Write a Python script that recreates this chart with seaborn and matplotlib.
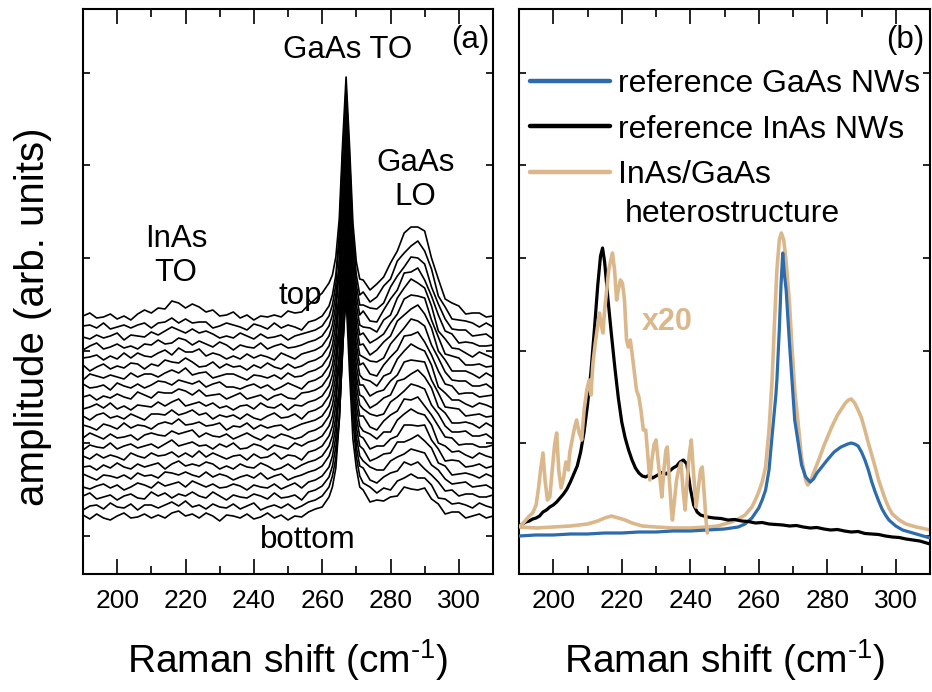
import matplotlib
matplotlib.use("Agg")
import matplotlib.pyplot as plt
import pandas as pd
import seaborn as sns
from matplotlib.ticker import MultipleLocator, FixedLocator
from matplotlib.lines import Line2D

# ---------------- data: panel (a) ----------------
x_a = [190, 192, 194, 196, 198, 200, 202, 204, 206, 208, 210, 212, 214, 216, 218, 220,
       222, 224, 226, 228, 230, 232, 234, 236, 238, 240, 242, 244, 246, 248, 250, 252,
       254, 256, 258, 260, 262, 263, 264, 265, 266, 267, 268, 269, 270, 271, 272, 274,
       276, 278, 280, 282, 284, 286, 288, 290, 292, 294, 296, 298, 300, 302, 304, 306,
       308, 310]

# vertical stacking offset of each spectrum (bottom -> top)
offsets_a = [57, 67, 77, 87, 97, 107, 117, 127, 137, 147, 157,
             167, 177, 187, 197, 207, 217, 227, 237, 247, 257]

traces_a = [
    [2,-2,3,-1,-3,1,4,-1,0,3,-1,2,-1,4,6,1,3,-1,4,1,-4,2,1,-1,3,-2,0,4,-1,2,-3,1,0,
     5,8,10,20,30,49,96,172,220,145,78,49,30,
     27,15,17,16,20,21,30,28,27,29,18,13,3,5,5,-1,1,3,-1,1],
    [-3,1,2,-2,4,0,-1,3,-3,2,2,-1,2,5,1,6,0,2,-2,3,0,-1,3,-2,1,4,-3,0,2,-1,3,-2,1,
     5,7,11,20,31,49,87,159,221,159,87,50,31,
     24,20,14,19,17,26,29,33,29,29,22,9,8,3,4,2,-1,4,1,-1],
    [1,4,-2,0,2,-3,1,3,-1,-2,5,1,4,-1,3,1,5,1,-1,5,1,-3,2,0,-1,3,1,-2,4,-1,0,2,-3,
     5,7,11,20,31,50,79,146,222,174,96,50,31,
     29,17,14,20,24,26,35,32,35,28,22,15,6,7,1,3,3,0,0,2],
    [0,-2,1,3,-1,2,-3,0,4,2,-1,5,1,3,5,0,6,3,0,3,-1,0,3,1,-3,2,0,-1,3,-2,1,4,-1,
     5,7,11,20,31,50,97,175,223,147,79,50,31,
     26,20,17,17,26,30,33,38,36,34,22,17,8,3,4,5,0,1,2,-2],
    [3,0,-3,2,1,-1,2,-2,4,1,2,-1,5,4,2,5,2,0,5,0,3,1,-3,0,2,-1,4,-2,1,3,-3,0,2,
     5,7,11,21,31,50,88,162,224,162,88,50,31,
     28,16,19,23,24,35,35,38,42,36,29,14,11,2,3,4,2,-1,3,0],
    [0,1,-3,2,-1,4,0,-2,3,0,2,4,-2,3,6,1,3,1,5,3,-2,1,-2,3,0,-1,4,1,-3,-1,3,-2,2,
     5,7,11,21,31,50,80,148,225,177,97,50,31,
     29,18,21,21,28,31,42,42,41,42,27,18,6,7,6,0,1,3,-1,1],
    [1,-2,3,-1,2,0,-3,4,1,-1,4,1,2,5,0,4,0,6,0,4,1,-2,1,2,-3,3,-1,0,4,-2,2,1,-3,
     5,7,11,21,31,51,98,178,226,148,80,51,31,
     26,23,18,25,25,37,43,48,44,42,32,14,11,5,6,2,-1,4,1,-1],
    [-3,2,0,-1,4,-2,1,3,-1,1,3,-1,3,7,1,3,5,1,2,-2,3,0,4,-2,-1,3,1,-3,2,0,-2,4,1,
     5,7,11,21,31,51,89,163,227,163,89,51,31,
     31,20,17,26,32,36,48,47,50,41,32,21,10,9,2,3,3,0,0,2],
    [-1,4,1,-2,3,-1,0,2,-3,2,4,2,1,6,3,5,7,0,4,1,0,3,-2,1,4,0,-3,2,-1,3,1,-2,0,
     5,7,11,21,32,51,81,149,228,179,98,51,32,
     28,23,21,23,35,40,46,53,51,48,32,23,11,5,5,6,1,1,3,-2],
    [2,0,-3,3,1,-2,4,-1,2,1,-2,3,5,3,8,2,3,5,1,2,4,-3,1,0,4,-2,2,-1,1,2,-3,0,3,
     5,7,11,21,32,51,98,180,229,149,81,51,32,
     30,19,23,29,32,46,48,53,57,50,39,20,14,4,4,5,3,-1,4,0],
    [1,-3,2,4,-1,1,-2,3,0,-3,3,3,2,7,2,4,7,2,4,-2,2,0,2,-2,3,-1,-3,1,4,-1,0,3,-2,
     5,7,11,21,32,51,90,166,230,166,90,51,32,
     32,21,25,27,36,42,55,57,56,55,37,24,10,9,8,1,2,3,0,1],
    [-2,0,3,-1,4,-2,1,-3,2,1,0,5,1,5,8,1,3,5,1,4,-1,1,-3,1,2,-2,4,0,-1,3,-3,2,1,
     5,7,11,21,32,52,82,151,231,181,99,52,32,
     28,26,21,31,34,48,56,63,59,56,42,20,14,7,7,3,0,4,2,-1],
    [0,2,-3,1,-1,3,0,-2,5,2,-1,5,4,4,8,6,2,7,1,2,3,-2,1,4,-2,0,2,-3,1,3,-1,-2,4,
     5,7,11,21,32,52,99,182,232,152,82,52,32,
     34,23,21,32,40,47,61,62,65,55,42,26,13,11,3,4,4,0,1,2],
    [3,-1,0,2,-3,4,1,-1,3,-1,2,6,5,2,7,5,3,6,0,3,5,0,0,-2,1,3,-1,2,-3,0,4,1,-2,
     5,7,11,21,32,52,91,167,233,167,91,52,32,
     30,26,25,29,43,51,59,68,66,61,42,29,15,7,6,6,1,1,3,-2],
    [-3,3,1,-1,2,0,-2,4,0,3,3,0,4,7,4,9,2,4,5,-1,1,3,3,0,-3,2,1,-1,2,-2,4,0,1,
     5,7,11,21,32,52,83,153,234,183,100,52,32,
     33,22,27,35,41,56,62,68,72,63,49,26,17,6,6,6,3,-1,4,0],
    [2,-4,0,3,-2,1,-1,4,3,-2,3,1,7,5,4,9,5,0,1,5,-1,3,0,1,-3,2,-1,4,0,-2,3,-1,1,
     5,7,11,21,32,52,100,184,235,153,83,52,32,
     34,24,28,33,44,53,68,72,71,69,47,30,13,11,9,2,2,3,0,1],
    [-1,0,2,-3,1,-2,4,-1,4,1,0,4,7,2,9,5,5,8,1,4,2,-2,1,-2,3,-1,2,0,-3,4,1,-2,3,
     5,7,11,21,32,52,91,169,236,169,91,52,32,
     30,29,25,37,42,59,69,78,74,69,51,26,18,9,8,4,0,5,2,-1],
    [-3,1,4,-2,0,3,-1,1,-2,3,2,7,3,4,9,7,2,6,3,0,5,2,-3,2,0,-1,4,-2,1,3,-1,0,2,
     5,7,11,21,32,52,83,155,237,185,100,52,32,
     36,26,25,37,48,57,74,75,79,67,51,32,16,13,4,5,4,1,1,2],
    [0,-2,2,-1,1,4,-3,2,1,0,5,2,6,10,7,4,8,4,6,3,-1,1,-1,4,1,-2,3,-1,0,2,-3,1,3,
     5,7,11,21,32,52,100,186,238,155,84,52,32,
     32,29,28,34,50,61,70,80,79,73,50,33,18,8,7,7,1,2,3,-2],
    [1,2,-1,4,-2,0,2,-1,2,4,-1,4,5,9,4,8,4,5,5,-1,1,4,2,0,-3,3,1,-2,4,-1,2,0,-3,
     5,7,11,21,32,52,92,170,239,170,92,52,32,
     35,25,30,41,48,66,74,81,86,76,58,31,20,8,7,6,4,0,4,0],
    [1,4,-1,0,3,-2,1,-3,3,7,4,9,8,16,14,9,13,10,5,7,1,2,5,-1,2,-3,1,0,2,0,6,4,5,
     12,18,24,34,42,60,98,175,240,172,94,55,38,
     37,27,33,40,54,66,84,90,90,86,59,38,18,14,11,3,4,4,0,1],
]

# ---------------- data: panel (b) ----------------
x_gaas = [190, 195, 200, 205, 210, 215, 220, 225, 230, 235, 240, 245, 250,
          252, 254, 256, 258, 260, 261, 262, 263,
          263.6, 264, 265, 265.3, 266, 266.5, 267, 267.5, 268, 269, 269.7, 270.5, 271.7, 272.5, 273.7,
          275, 276, 277, 278.4, 280, 282, 284, 286, 287, 288, 289, 290, 291, 292, 293, 294, 295,
          296, 297, 298, 300, 302, 305, 310]
y_gaas = [38, 39, 39, 40, 40, 41, 41, 42, 42, 43, 43, 44, 45,
          46, 47, 50, 56, 66, 74, 84, 104,
          127, 142, 179, 194, 244, 289, 321, 299, 284, 229, 194, 154, 127, 109, 97,
          92, 95, 101, 107, 114, 122, 127, 130, 131, 130, 128, 122, 114, 104, 92, 82, 73,
          65, 59, 54, 48, 44, 41, 36]

x_inas = [190, 191, 192, 193, 194, 195, 196, 197, 198, 199, 200, 201, 202, 203, 204, 205,
          206, 207, 208, 209, 210, 211, 212, 213, 213.8, 214.4,
          215, 216, 217, 218, 219, 220, 221, 222, 223, 224, 225, 226, 227, 228, 229, 230,
          231, 232, 233, 234, 235, 236, 237, 238, 239, 240, 241, 242, 243,
          245, 247, 249, 251, 253, 255, 257, 259, 261, 263, 265, 267, 269, 271, 273, 275,
          277, 279, 281, 283, 285, 287, 289, 291, 293, 295, 297, 299, 301, 303, 305, 307,
          309, 310]
y_inas = [48, 50, 52, 53, 55, 56, 58, 62, 64, 67, 69, 72, 76, 80, 85, 92,
          100, 108, 122, 142, 169, 202, 244, 289, 318, 326,
          312, 274, 239, 206, 176, 152, 136, 124, 114, 106, 101, 98, 97, 99, 96, 98,
          100, 102, 100, 103, 106, 108, 112, 114, 110, 86, 69, 62, 59,
          57, 56, 55.5, 54, 54.5, 53, 52.5, 51, 51.5, 50, 49.5, 49, 48, 48.5, 47, 46,
          46.5, 45, 44, 44.5, 43, 42, 42.5, 40.5, 40, 39.5, 38, 37, 36.5, 35, 34, 33,
          31, 30]

x_het = [190, 195, 200, 205, 210, 213, 215, 217, 219, 221,
         223, 226, 230, 235, 240, 245, 248, 250, 252, 254,
         256, 258, 259, 260, 261, 262, 263, 263.9, 264.5, 265.3,
         266, 266.6, 267.3, 268, 269, 269.7, 270.5, 271.7, 272.5, 273.7,
         274.3, 275, 276, 277.5, 279, 281.3, 283, 285.3, 286.2, 287,
         288, 289, 290, 291, 292, 293, 294, 295, 296, 297,
         298, 299, 301, 303, 306, 310]
y_het = [47, 46, 47, 48, 50, 53, 56, 58, 56, 54,
         51, 48, 47, 46, 46, 47, 48, 50, 52, 55,
         59, 67, 74, 82, 92, 107, 144, 194, 244, 304,
         334, 341, 334, 312, 269, 227, 184, 144, 116, 94,
         89, 92, 101, 114, 128, 147, 159, 171, 174, 175,
         171, 164, 156, 144, 131, 119, 107, 94, 84, 74,
         66, 60, 54, 50, 47, 44]

# heterostructure spectrum in the InAs range, multiplied by 20
x_het20 = [190, 191, 192, 193, 194, 195, 195.7, 196.3, 197, 197.6,
           198.3, 199, 199.7, 200.4, 201, 201.6, 202.3, 203, 203.7, 204.4,
           204.8, 205.5, 206.2, 206.8, 207.5, 208.3, 209, 209.8, 210.5, 211,
           211.6, 212.2, 212.8, 213.5, 214, 214.5, 215, 215.6, 216.2, 216.8,
           217.3, 217.9, 218.5, 219, 219.6, 220.2, 220.8, 221.4, 221.9, 222.5,
           223, 223.6, 224.3, 225, 225.6, 226.3, 227, 227.6, 228.2, 228.8,
           229.4, 230, 230.6, 231.2, 231.7, 232.3, 232.9, 233.3, 233.9, 234.5,
           234.8, 235.4, 236, 236.6, 237.3, 237.9, 238.5, 239.1, 239.7, 240.3,
           240.9, 241.7, 242.3, 243, 243.5, 244.1, 244.6, 245]
y_het20 = [47, 50, 54, 58, 61, 69, 86, 104, 121, 94,
           74, 77, 104, 129, 141, 104, 86, 96, 112, 104,
           121, 134, 146, 154, 142, 134, 164, 184, 194, 179,
           211, 229, 244, 261, 249, 241, 264, 284, 304, 314,
           321, 304, 274, 284, 294, 291, 274, 234, 227, 234,
           221, 204, 184, 177, 164, 144, 144, 119, 94, 114,
           129, 134, 114, 94, 77, 104, 124, 127, 94, 64,
           54, 74, 94, 104, 111, 84, 64, 94, 119, 134,
           104, 67, 84, 104, 107, 79, 54, 41]

legend_labels = ["reference GaAs NWs", "reference InAs NWs", "InAs/GaAs"]

BLUE = "#2D6BAD"
TAN = "#DBB78C"
BLACK = "#000000"

# ---------------- style ----------------
sns.set_theme(style="ticks", rc={
    "axes.edgecolor": "black", "xtick.color": "black", "ytick.color": "black",
    "text.color": "black", "axes.labelcolor": "black", "axes.linewidth": 1.5,
})
plt.rcParams["font.family"] = ["Liberation Sans", "DejaVu Sans"]
plt.rcParams["mathtext.fontset"] = "custom"
plt.rcParams["mathtext.rm"] = "Liberation Sans"
plt.rcParams["mathtext.it"] = "Liberation Sans:italic"
plt.rcParams["mathtext.bf"] = "Liberation Sans:bold"

fig = plt.figure(figsize=(9.32, 6.92), dpi=100)
axa = fig.add_axes([83 / 932, 1 - 574 / 692, 410 / 932, 565 / 692])
axb = fig.add_axes([519 / 932, 1 - 574 / 692, 411 / 932, 565 / 692])

# ---------------- panel (a) ----------------
rows = []
for k, (off, vals) in enumerate(zip(offsets_a, traces_a)):
    for xv, yv in zip(x_a, vals):
        rows.append((k, xv, yv + off))
df_a = pd.DataFrame(rows, columns=["trace", "shift", "amp"])
sns.lineplot(data=df_a, x="shift", y="amp", units="trace", estimator=None,
             color=BLACK, lw=1.2, ax=axa, legend=False, sort=False)

# ---------------- panel (b) ----------------
sns.lineplot(x=x_het, y=y_het, color=TAN, lw=2.6, ax=axb, sort=False, zorder=2)
sns.lineplot(x=x_gaas, y=y_gaas, color=BLUE, lw=2.3, ax=axb, sort=False, zorder=3)
sns.lineplot(x=x_inas, y=y_inas, color=BLACK, lw=2.3, ax=axb, sort=False, zorder=4)
sns.lineplot(x=x_het20, y=y_het20, color=TAN, lw=2.6, ax=axb, sort=False, zorder=5)

handles = [Line2D([], [], color=BLUE, lw=3.2),
           Line2D([], [], color=BLACK, lw=3.2),
           Line2D([], [], color=TAN, lw=3.2)]
axb.legend(handles, legend_labels, loc="upper left", bbox_to_anchor=(0.027, 0.894),
           frameon=False, fontsize=23, handlelength=2.5, handletextpad=0.25,
           labelspacing=0.49, borderpad=0, borderaxespad=0)
axb.text(0.258, 0.638, "heterostructure", transform=axb.transAxes,
         fontsize=23, ha="left", va="center")
axb.text(0.36, 0.446, "x20", transform=axb.transAxes, fontsize=22,
         fontweight="bold", color=TAN, ha="center", va="center")

# ---------------- annotations (a) ----------------
fs = 22.5
axa.text(0.646, 0.927, "GaAs TO", transform=axa.transAxes, fontsize=fs, ha="center", va="center")
axa.text(0.81, 0.697, "GaAs\nLO", transform=axa.transAxes, fontsize=fs, ha="center",
         va="center", linespacing=1.15)
axa.text(0.227, 0.563, "InAs\nTO", transform=axa.transAxes, fontsize=fs, ha="center",
         va="center", linespacing=1.15)
axa.text(0.529, 0.492, "top", transform=axa.transAxes, fontsize=fs, ha="center", va="center")
axa.text(0.549, 0.060, "bottom", transform=axa.transAxes, fontsize=fs, ha="center", va="center")
axa.text(0.944, 0.945, "(a)", transform=axa.transAxes, fontsize=fs, ha="center", va="center")
axb.text(0.939, 0.945, "(b)", transform=axb.transAxes, fontsize=fs, ha="center", va="center")

# ---------------- axes formatting ----------------
for ax in (axa, axb):
    ax.set_xlim(190, 310)
    ax.set_ylim(0, 565)
    ax.xaxis.set_major_locator(MultipleLocator(20))
    ax.xaxis.set_minor_locator(MultipleLocator(10))
    ax.yaxis.set_major_locator(FixedLocator([38, 130.7, 223.4, 316.1, 408.8, 501.5]))
    ax.tick_params(which="both", direction="in", top=True, right=True, width=1.2)
    ax.tick_params(axis="x", which="major", length=11, labelsize=19, pad=11)
    ax.tick_params(axis="x", which="minor", length=6)
    ax.tick_params(axis="y", which="major", length=5, labelleft=False)
    for s in ax.spines.values():
        s.set_linewidth(1.5)
        s.set_color("black")
    ax.set_xlabel(r"Raman shift (cm$^{\text{-}1}$)", fontsize=28, labelpad=17)
    ax.set_ylabel("")

axa.set_ylabel("amplitude (arb. units)", fontsize=29)
axa.yaxis.set_label_coords(-0.076, 0.455)

fig.savefig("out.png", dpi=100)
